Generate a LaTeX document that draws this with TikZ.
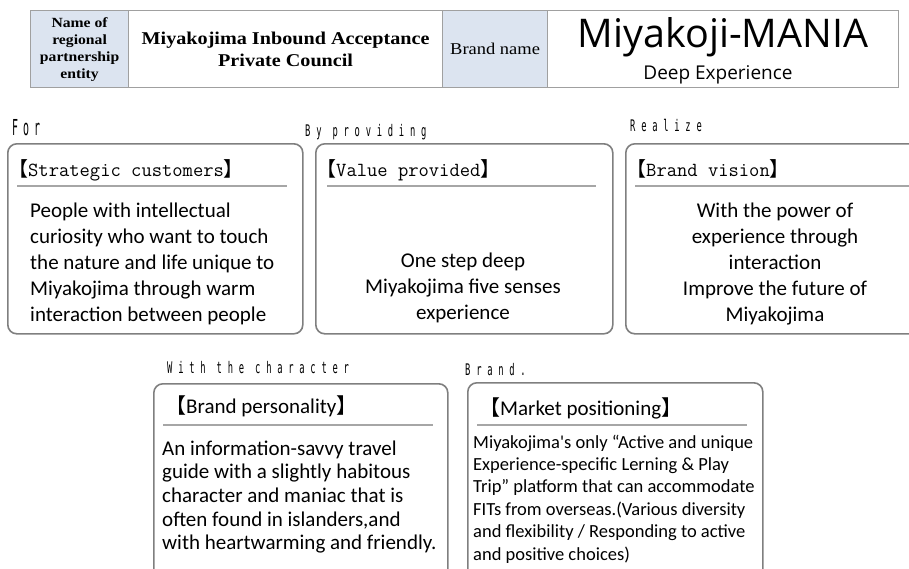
\documentclass[tikz,border=0pt]{standalone}
\usepackage{fontspec}
\setmainfont{Carlito}
\setmonofont{Latin Modern Mono}
\newfontfamily\tblfont[FakeStretch=1.12]{Liberation Serif}
\newfontfamily\brandfont{Open Sans}
\newfontfamily\cjk{Noto Sans CJK JP}
\newfontfamily\tagfont[FakeStretch=0.55,LetterSpace=36]{DejaVu Sans Mono}
\newfontfamily\tagfontbig[FakeStretch=0.45,LetterSpace=23]{DejaVu Sans Mono}
\usetikzlibrary{positioning}
\definecolor{tblline}{HTML}{A0A0A0}
\definecolor{tblfill}{HTML}{DCE4F0}
\definecolor{cardline}{HTML}{7F7F7F}
\definecolor{ruleg}{HTML}{A6A6A6}
\newcommand{\opbr}{{\cjk 【}}
\newcommand{\clbr}{{\cjk 】}}
\tikzset{
  cell/.style    = {draw=tblline, line width=1.2pt, inner sep=0pt, anchor=north west,
                    align=center},
  cellb/.style   = {cell, fill=tblfill},
  card/.style    = {draw=cardline, line width=1.6pt, rounded corners=9pt,
                    inner sep=0pt, anchor=north west},
  tag/.style     = {font=\tagfont\fontsize{16}{16}\selectfont, anchor=base west, inner sep=0pt},
  mhead/.style   = {font=\ttfamily\fontsize{20}{20}\selectfont, anchor=base west, inner sep=0pt},
  shead/.style   = {font=\fontsize{21}{21}\selectfont, anchor=base west, inner sep=0pt},
  hrule/.style   = {draw=ruleg, line width=1.1pt},
  body/.style    = {font=\fontsize{21}{26}\selectfont, inner sep=0pt},
}

\begin{document}
\begin{tikzpicture}[x=1pt, y=-1pt]
  \useasboundingbox (0,0) rectangle (909,568);
  % header table
  \node[cellb, minimum width=98pt, minimum height=77pt,
        font=\tblfont\bfseries\fontsize{14}{17}\selectfont] (entity) at (30,10)
    {Name of\\regional\\partnership\\entity};
  \node[cell, minimum width=314pt, minimum height=77pt,
        font=\tblfont\bfseries\fontsize{18}{22}\selectfont] (council) at (128,10)
    {Miyakojima Inbound Acceptance\\Private Council};
  \node[cellb, minimum width=105pt, minimum height=77pt,
        font=\tblfont\fontsize{16.5}{16.5}\selectfont] (bname) at (442,10)
    {\raisebox{-4pt}{Brand name}};
  \node[cell, minimum width=351pt, minimum height=77pt] (bcell) at (547,10) {};
  \node[font=\brandfont\fontsize{39.5}{39.5}\selectfont, anchor=base, inner sep=0pt]
    (mania) at (723,47) {Miyakoji-MANIA};
  \node[font=\brandfont\fontsize{19}{19}\selectfont, anchor=base, inner sep=0pt]
    (deep) at (718,79) {Deep Experience};

  % upper row
  \node[tag, font=\tagfontbig\fontsize{22}{22}\selectfont] (tfor) at (12,135) {For};
  \node[tag] (tby)  at (305,136) {By providing};
  \node[tag] (treal) at (630,131) {Realize};
  \node[card, minimum width=295pt, minimum height=190pt] (cust)  at (7,143) {};
  \node[card, minimum width=297pt, minimum height=190pt] (value) at (315,143) {};
  \node[card, minimum width=300pt, minimum height=190pt] (vision) at (625,143) {};
  \node[mhead] (hcust)  at (8,176)   {\opbr Strategic customers\clbr};
  \node[mhead] (hvalue) at (316,176) {\opbr Value provided\clbr};
  \node[mhead] (hvis)   at (626,176) {\opbr Brand vision\clbr};
  \draw[hrule] (17,186) -- (287,186);
  \draw[hrule] (327,186) -- (596,186);
  \draw[hrule] (635,186) -- (915,186);
  \node[body, anchor=west, align=left] (custtxt) at (30,264)
    {People with intellectual\\curiosity who want to touch\\the nature and life unique to\\Miyakojima through warm\\interaction between people};
  \node[body, align=center] (valtxt) at (463,288)
    {One step deep\\Miyakojima five senses\\experience};
  \node[body, align=center] (vistxt) at (775,264)
    {With the power of\\experience through\\interaction\\Improve the future of\\Miyakojima};

  % lower row
  \node[tag] (tchar)  at (167,373) {With the character};
  \node[tag] (tbrand) at (465,375) {Brand.};
  \node[card, minimum width=294pt, minimum height=200pt] (pers) at (153,383) {};
  \node[card, minimum width=295pt, minimum height=200pt] (posi) at (467,382) {};
  \node[shead] (hpers) at (165,413) {\opbr Brand personality\clbr};
  \node[shead] (hposi) at (479,415) {\opbr Market positioning\clbr};
  \draw[hrule] (163,425) -- (433,425);
  \draw[hrule] (477,425) -- (747,425);
  \node[body, font=\fontsize{21}{23.7}\selectfont, anchor=west, align=left] (perstxt) at (162,497)
    {An information-savvy travel\\guide with a slightly habitous\\character and maniac that is\\often found in islanders,and\\with heartwarming and friendly.};
  \node[body, font=\fontsize{18.5}{22.4}\selectfont, anchor=west, align=left] (positxt) at (473,499)
    {Miyakojima\textquotesingle s only “Active and unique\\Experience-specific Lerning \& Play\\Trip” platform that can accommodate\\FITs from overseas.(Various diversity\\and flexibility / Responding to active\\and positive choices)};
\end{tikzpicture}
\end{document}
